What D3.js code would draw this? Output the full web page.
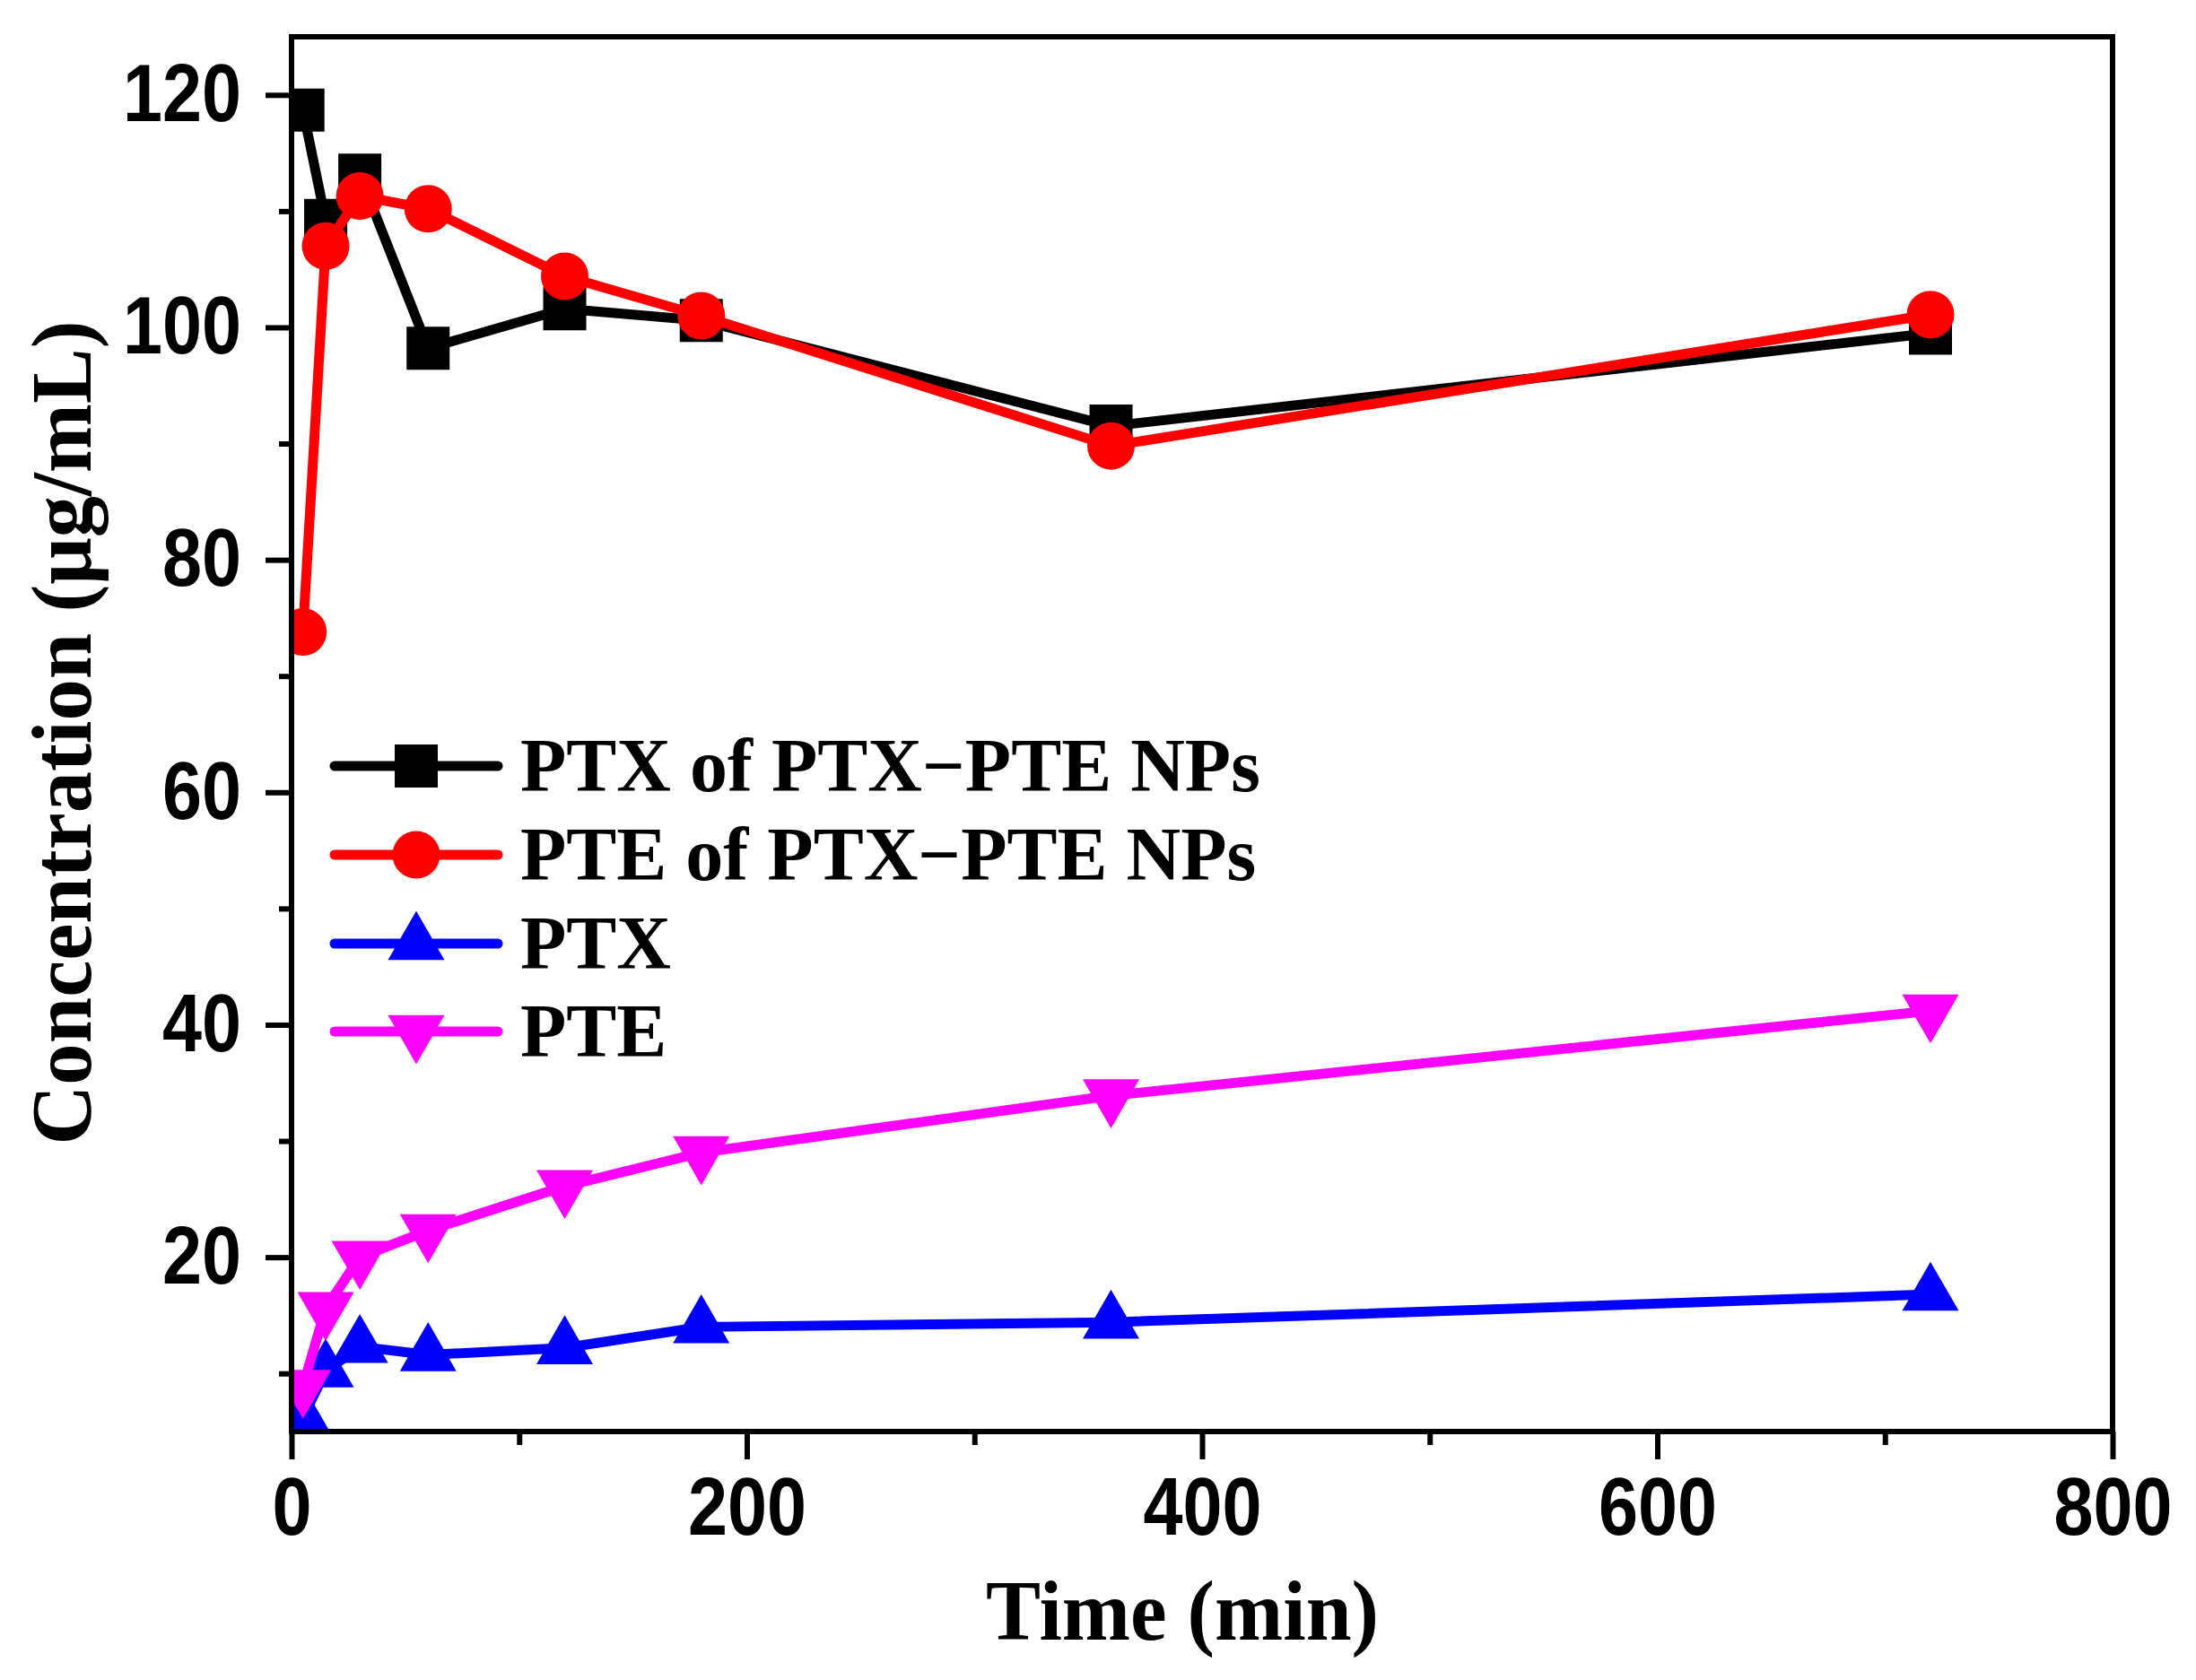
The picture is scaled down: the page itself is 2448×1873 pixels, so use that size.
<!DOCTYPE html>
<html>
<head>
<meta charset="utf-8">
<script src="https://cdn.jsdelivr.net/npm/d3@7"></script>
<style>
  body { margin: 0; background: #fff; }
</style>
</head>
<body>
<div id="chart"></div>
<script>
// sampling times (min) and concentrations (µg/mL)
const times = [5, 15, 30, 60, 120, 180, 360, 720];
const ptxOfNPs = [118.7, 109.2, 113.1, 98.2, 101.6, 100.6, 91.5, 99.5];
const pteOfNPs = [73.8, 107.0, 111.3, 110.2, 104.4, 101.0, 89.8, 101.1];
const ptxFree = [6.2, 10.2, 12.3, 11.6, 12.2, 14.0, 14.4, 16.8];
const pteFree = [8.9, 15.6, 20.0, 22.3, 26.1, 29.0, 33.9, 41.2];

const seriesNames = ['PTX of PTX\u2212PTE NPs', 'PTE of PTX\u2212PTE NPs', 'PTX', 'PTE'];
const xTicks = [0, 200, 400, 600, 800];
const xMinorTicks = [100, 300, 500, 700];
const yTicks = [20, 40, 60, 80, 100, 120];
const yMinorTicks = [10, 30, 50, 70, 90, 110];

const width = 2448, height = 1873;
const plotL = 325, plotR = 2355, plotT = 41, plotB = 1596;

const serif = '"Liberation Serif", "Times New Roman", serif';
const narrow = '"Liberation Sans Narrow", "Arial Narrow", "Liberation Sans", sans-serif';

const x = d3.scaleLinear().domain([0, 800]).range([plotL, plotR]);
const y = d3.scaleLinear().domain([5, 125]).range([plotB, plotT]);

// marker styles per series
const styles = [
  {color: '#000000', type: d3.symbolSquare, size: 2304, rot: 0},
  {color: '#ff0000', type: d3.symbolCircle, size: 2206, rot: 0},
  {color: '#0000ff', type: d3.symbolTriangle, size: 1719, rot: 0},
  {color: '#ff00ff', type: d3.symbolTriangle, size: 1719, rot: 180}
];
const values = [ptxOfNPs, pteOfNPs, ptxFree, pteFree];

const svg = d3.select('#chart').append('svg')
  .attr('width', width)
  .attr('height', height)
  .style('background', '#fff');

svg.append('clipPath').attr('id', 'plotclip')
  .append('rect')
  .attr('x', plotL).attr('y', plotT)
  .attr('width', plotR - plotL).attr('height', plotB - plotT);

const plot = svg.append('g').attr('clip-path', 'url(#plotclip)');

const line = d3.line()
  .x((d, i) => x(times[i]))
  .y(d => y(d));

values.forEach((vals, k) => {
  const st = styles[k];
  const g = plot.append('g');
  g.append('path')
    .datum(vals)
    .attr('d', line)
    .attr('fill', 'none')
    .attr('stroke', st.color)
    .attr('stroke-width', 11)
    .attr('stroke-linejoin', 'round')
    .attr('stroke-linecap', 'round');
  g.selectAll('path.pt')
    .data(vals)
    .enter()
    .append('path')
    .attr('class', 'pt')
    .attr('d', d3.symbol().type(st.type).size(st.size))
    .attr('transform', (d, i) => `translate(${x(times[i])},${y(d)}) rotate(${st.rot})`)
    .attr('fill', st.color);
});

// axes
const xAxis = svg.append('g')
  .attr('transform', `translate(0,${plotB})`)
  .call(d3.axisBottom(x).tickValues(xTicks).tickSize(31).tickPadding(20).tickFormat(d3.format('d')));
const xMinor = svg.append('g')
  .attr('transform', `translate(0,${plotB})`)
  .call(d3.axisBottom(x).tickValues(xMinorTicks).tickSize(15).tickFormat(''));
const yAxis = svg.append('g')
  .attr('transform', `translate(${plotL},0)`)
  .call(d3.axisLeft(y).tickValues(yTicks).tickSize(29).tickPadding(27).tickFormat(d3.format('d')));
const yMinor = svg.append('g')
  .attr('transform', `translate(${plotL},0)`)
  .call(d3.axisLeft(y).tickValues(yMinorTicks).tickSize(14).tickFormat(''));

[xAxis, xMinor, yAxis, yMinor].forEach(a => {
  a.select('.domain').remove();
  a.selectAll('.tick line').attr('stroke', '#000').attr('stroke-width', 6);
  // narrow bold digits: squeeze the fallback sans to the condensed width
  a.selectAll('.tick text')
    .attr('fill', '#000')
    .attr('textLength', function() { return 44 * this.textContent.length; })
    .attr('lengthAdjust', 'spacingAndGlyphs')
    .style('font-family', narrow)
    .style('font-weight', 'bold')
    .style('font-size', '90px');
});

// frame
svg.append('rect')
  .attr('x', plotL).attr('y', plotT)
  .attr('width', plotR - plotL).attr('height', plotB - plotT)
  .attr('fill', 'none')
  .attr('stroke', '#000')
  .attr('stroke-width', 6);

// axis titles
svg.append('text')
  .attr('x', 1318).attr('y', 1828)
  .attr('text-anchor', 'middle')
  .attr('textLength', 438)
  .attr('lengthAdjust', 'spacingAndGlyphs')
  .style('font-family', serif)
  .style('font-weight', 'bold')
  .style('font-size', '96px')
  .text('Time (min)');

svg.append('text')
  .attr('transform', 'translate(101,817) rotate(-90)')
  .attr('text-anchor', 'middle')
  .attr('textLength', 919)
  .attr('lengthAdjust', 'spacingAndGlyphs')
  .style('font-family', serif)
  .style('font-weight', 'bold')
  .style('font-size', '96px')
  .text('Concentration (\u03bcg/mL)');

// legend
const legendRows = [854, 953, 1052, 1150];
const legend = svg.append('g');
seriesNames.forEach((name, k) => {
  const st = styles[k];
  const ly = legendRows[k];
  legend.append('line')
    .attr('x1', 373).attr('x2', 555)
    .attr('y1', ly).attr('y2', ly)
    .attr('stroke', st.color)
    .attr('stroke-width', 11)
    .attr('stroke-linecap', 'round');
  legend.append('path')
    .attr('d', d3.symbol().type(st.type).size(st.size))
    .attr('transform', `translate(464,${ly}) rotate(${st.rot})`)
    .attr('fill', st.color);
  legend.append('text')
    .attr('x', 580).attr('y', ly + 28)
    .style('font-family', serif)
    .style('font-weight', 'bold')
    .style('font-size', '84px')
    .text(name);
});
</script>
</body>
</html>
